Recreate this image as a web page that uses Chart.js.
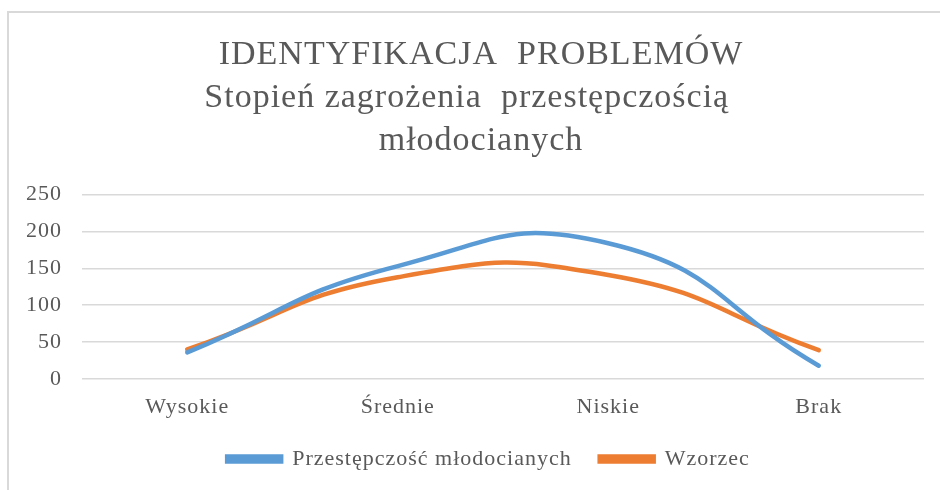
<!DOCTYPE html>
<html>
<head>
<meta charset="utf-8">
<script src="https://cdn.jsdelivr.net/npm/chart.js@4/dist/chart.umd.min.js"></script>
<style>
  html, body { margin: 0; padding: 0; background: #fff; }
  #wrap { position: relative; width: 940px; height: 490px; }
</style>
</head>
<body>
<div id="wrap"><canvas id="riskChart"></canvas></div>
<script>
// categories and series
const categories = ['Wysokie', 'Średnie', 'Niskie', 'Brak'];
const youthCrime = [36, 153, 184, 18];
const reference = [40, 138, 141, 39];
const yTicks = [0, 50, 100, 150, 200, 250];

const titleLines = ['IDENTYFIKACJA  PROBLEMÓW', 'Stopień zagrożenia  przestępczością   ', 'młodocianych'];
const seriesNames = ['Przestępczość młodocianych', 'Wzorzec'];

const textColor = '#595959';
const serif = '"Liberation Serif", "Times New Roman", serif';

// slightly looser text, set before measuring and before drawing
const spacingPlugin = {
    id: 'spacing',
    beforeLayout(chart) { chart.ctx.letterSpacing = '1px'; },
    beforeDraw(chart) { chart.ctx.letterSpacing = '1px'; }
};

// title and legend sit a bit right of the plot centre
const shiftPlugin = {
    id: 'shift',
    afterLayout(chart) {
        if (chart.titleBlock) chart.titleBlock.left += 33;
        if (chart.legend) chart.legend.left += 48;
    }
};

// light frame on the top and left edge
const framePlugin = {
    id: 'frame',
    beforeDraw(chart) {
        const ctx = chart.ctx;
        ctx.save();
        ctx.fillStyle = '#d9d9d9';
        ctx.fillRect(7, 11, chart.width - 7, 2);
        ctx.fillRect(7, 11, 2, chart.height - 11);
        ctx.restore();
    }
};

const ctx = document.getElementById('riskChart').getContext('2d');
const riskChart = new Chart(ctx, {
    type: 'line',
    data: {
        labels: categories,
        datasets: [{
            label: seriesNames[0],
            data: youthCrime,
            borderColor: '#5b9bd5',
            backgroundColor: '#5b9bd5',
            borderWidth: 4.5,
            borderCapStyle: 'round',
            tension: 0.5,
            pointRadius: 0,
            fill: false
        }, {
            label: seriesNames[1],
            data: reference,
            borderColor: '#ed7d31',
            backgroundColor: '#ed7d31',
            borderWidth: 4.5,
            borderCapStyle: 'round',
            tension: 0.5,
            pointRadius: 0,
            fill: false
        }]
    },
    options: {
        responsive: true,
        maintainAspectRatio: false,
        animation: false,
        layout: {
            padding: { left: 5, right: 16, top: 12, bottom: 10 }
        },
        plugins: {
            title: {
                display: true,
                text: titleLines,
                color: textColor,
                font: { family: serif, size: 34, weight: 'normal', lineHeight: 1.26 },
                padding: { top: 22, bottom: 32 }
            },
            legend: {
                position: 'bottom',
                labels: {
                    color: textColor,
                    font: { family: serif, size: 22 },
                    boxWidth: 54,
                    boxHeight: 5,
                    padding: 28
                }
            },
            tooltip: { enabled: false }
        },
        scales: {
            x: {
                offset: true,
                afterFit(scale) { scale.height = 41; },
                grid: { display: false },
                border: { display: false },
                ticks: {
                    color: textColor,
                    font: { family: serif, size: 22 },
                    padding: 7
                }
            },
            y: {
                min: 0,
                max: 250,
                afterFit(scale) { scale.width = 77; },
                afterBuildTicks(scale) {
                    scale.ticks = yTicks.map(v => ({ value: v }));
                },
                grid: { color: '#d9d9d9', lineWidth: 1.5, drawTicks: false },
                border: { display: false },
                ticks: {
                    color: textColor,
                    font: { family: serif, size: 22 },
                    padding: 20
                }
            }
        }
    },
    plugins: [spacingPlugin, shiftPlugin, framePlugin]
});
</script>
</body>
</html>
